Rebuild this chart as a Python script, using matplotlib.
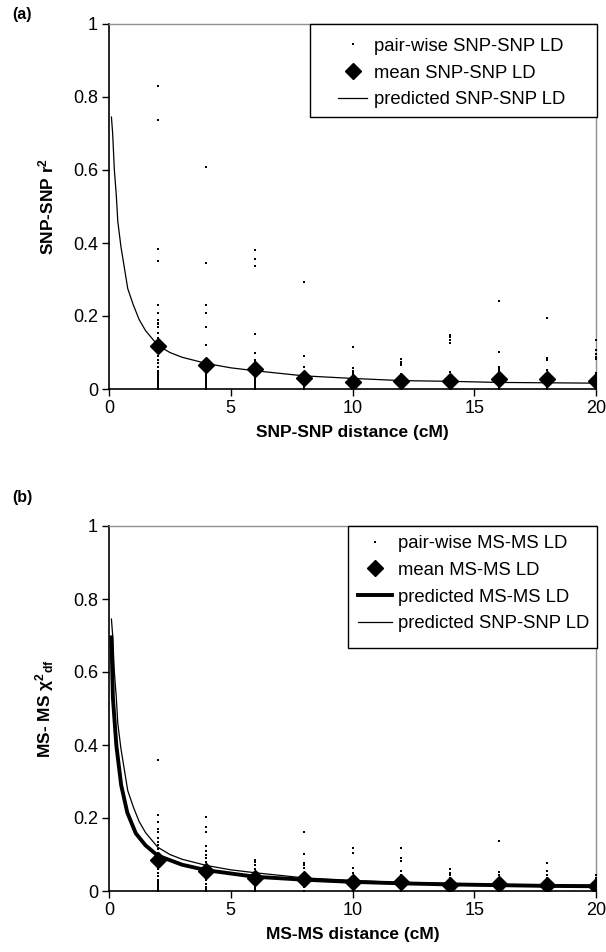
import matplotlib
matplotlib.use("Agg")
import matplotlib.pyplot as plt
from matplotlib.patches import Rectangle

plt.rcParams['font.family'] = ['Liberation Sans', 'DejaVu Sans']
plt.rcParams['mathtext.fontset'] = 'custom'
plt.rcParams['mathtext.rm'] = 'Liberation Sans'
plt.rcParams['mathtext.it'] = 'Liberation Sans:italic'
plt.rcParams['mathtext.bf'] = 'Liberation Sans:bold'

# ---------------- data: panel (a) SNP-SNP ----------------
distances = [2, 4, 6, 8, 10, 12, 14, 16, 18, 20]

snp_pairwise = {
    2: [0.83, 0.737, 0.384, 0.352, 0.23, 0.207, 0.19, 0.18, 0.177, 0.169, 0.153, 0.14,
        0.10, 0.09, 0.08, 0.07, 0.06, 0.05, 0.045, 0.04, 0.035, 0.03, 0.025, 0.02,
        0.015, 0.01, 0.005, 0.0],
    4: [0.609, 0.345, 0.23, 0.207, 0.171, 0.12, 0.05, 0.045, 0.04, 0.035, 0.03,
        0.025, 0.02, 0.015, 0.01, 0.005, 0.0],
    6: [0.381, 0.356, 0.338, 0.15, 0.10, 0.08, 0.075, 0.03, 0.025, 0.02, 0.015,
        0.01, 0.005, 0.0],
    8: [0.294, 0.09, 0.06, 0.045, 0.035, 0.02, 0.015, 0.01, 0.005, 0.0],
    10: [0.116, 0.057, 0.05, 0.045, 0.04, 0.03, 0.02, 0.01, 0.005, 0.0],
    12: [0.081, 0.075, 0.07, 0.065, 0.04, 0.03, 0.015, 0.01, 0.005, 0.0],
    14: [0.148, 0.142, 0.134, 0.127, 0.047, 0.035, 0.015, 0.01, 0.005, 0.0],
    16: [0.241, 0.102, 0.06, 0.055, 0.05, 0.04, 0.015, 0.01, 0.005, 0.0],
    18: [0.195, 0.086, 0.079, 0.052, 0.04, 0.015, 0.01, 0.005, 0.0],
    20: [0.134, 0.107, 0.096, 0.089, 0.081, 0.044, 0.035, 0.015, 0.01, 0.005, 0.0],
}
snp_mean = [0.119, 0.065, 0.055, 0.031, 0.018, 0.023, 0.022, 0.027, 0.027, 0.022]

snp_pred_x = [0.1, 0.15, 0.22, 0.3, 0.36, 0.49, 0.77, 1.0, 1.24, 1.5, 2.0, 2.5,
              3.0, 4.0, 5.0, 6.0, 8.0, 10, 12, 14, 16, 18, 20]
snp_pred_y = [0.745, 0.70, 0.60, 0.53, 0.46, 0.39, 0.275, 0.23, 0.19, 0.16, 0.12,
              0.10, 0.087, 0.07, 0.058, 0.05, 0.036, 0.029, 0.023, 0.021, 0.018,
              0.017, 0.016]

# ---------------- data: panel (b) MS-MS ----------------
ms_pairwise = {
    2: [0.36, 0.209, 0.19, 0.17, 0.163, 0.146, 0.135, 0.125, 0.115, 0.105, 0.095,
        0.08, 0.07, 0.06, 0.05, 0.04, 0.03, 0.025, 0.02, 0.015, 0.01, 0.005, 0.0],
    4: [0.204, 0.175, 0.163, 0.124, 0.11, 0.10, 0.09, 0.08, 0.07, 0.06, 0.05,
        0.04, 0.03, 0.02, 0.01, 0.005, 0.0],
    6: [0.086, 0.08, 0.07, 0.06, 0.05, 0.04, 0.03, 0.02, 0.01, 0.005, 0.0],
    8: [0.163, 0.102, 0.078, 0.07, 0.063, 0.05, 0.04, 0.03, 0.02, 0.01, 0.0],
    10: [0.118, 0.104, 0.063, 0.05, 0.04, 0.03, 0.02, 0.01, 0.0],
    12: [0.118, 0.09, 0.081, 0.054, 0.045, 0.035, 0.02, 0.01, 0.0],
    14: [0.06, 0.05, 0.045, 0.035, 0.025, 0.015, 0.01, 0.0],
    16: [0.136, 0.051, 0.045, 0.035, 0.025, 0.015, 0.01, 0.0],
    18: [0.077, 0.056, 0.045, 0.035, 0.025, 0.015, 0.01, 0.0],
    20: [0.045, 0.035, 0.025, 0.015, 0.01, 0.0],
}
ms_mean = [0.086, 0.055, 0.036, 0.032, 0.026, 0.026, 0.017, 0.02, 0.017, 0.015]

ms_pred_x = [0.1, 0.16, 0.3, 0.5, 0.75, 1.1, 1.5, 2.0, 3.0, 4.0, 6.0, 8.0, 10,
             12, 14, 16, 18, 20]
ms_pred_y = [0.695, 0.53, 0.40, 0.29, 0.215, 0.158, 0.125, 0.097, 0.072, 0.057,
             0.039, 0.031, 0.025, 0.021, 0.018, 0.016, 0.014, 0.013]

x_ticks = [0, 5, 10, 15, 20]
y_ticks = [0, 0.2, 0.4, 0.6, 0.8, 1]
y_ticklabels = ['0', '0.2', '0.4', '0.6', '0.8', '1']

# ---------------- figure ----------------
fig = plt.figure(figsize=(6.06, 9.52), dpi=100)
ax_a = fig.add_axes([109/606, 1-389/952, 487/606, 365/952])
ax_b = fig.add_axes([109/606, 1-891/952, 487/606, 365/952])


def style(ax):
    ax.set_xlim(0, 20)
    ax.set_ylim(0, 1)
    ax.set_xticks(x_ticks)
    ax.set_xticklabels([str(t) for t in x_ticks])
    ax.set_yticks(y_ticks)
    ax.set_yticklabels(y_ticklabels)
    ax.tick_params(direction='out', length=5, width=1, labelsize=13, color='black', pad=3)
    for s in ['left', 'bottom']:
        ax.spines[s].set_color('black')
        ax.spines[s].set_linewidth(1.2)
    for s in ['top', 'right']:
        ax.spines[s].set_color('#909090')
        ax.spines[s].set_linewidth(1.0)


def scatter_pairs(ax, d, label):
    xs, ys = [], []
    for k in distances:
        for v in d[k]:
            xs.append(k)
            ys.append(v)
    return ax.plot(xs, ys, linestyle='none', marker='s', markersize=1.6,
                   color='black', markeredgewidth=0, label=label, zorder=3)[0]


def framed_legend(ax, handles, frame_x0, frame_y0, anchor, handlelength):
    ax.add_patch(Rectangle((frame_x0, frame_y0), 1.002 - frame_x0, 1.0 - frame_y0,
                           transform=ax.transAxes, facecolor='white', edgecolor='black',
                           linewidth=1.0, zorder=5, clip_on=False))
    leg = ax.legend(handles=handles, loc='upper left', bbox_to_anchor=anchor,
                    borderaxespad=0, frameon=False, fontsize=13.3,
                    handlelength=handlelength, handletextpad=0.35, labelspacing=0.53,
                    borderpad=0)
    leg.set_zorder(6)
    return leg


# Panel (a)
style(ax_a)
h1 = scatter_pairs(ax_a, snp_pairwise, 'pair-wise SNP-SNP LD')
h2 = ax_a.plot(distances, snp_mean, linestyle='none', marker='D', markersize=8,
               color='black', label='mean SNP-SNP LD', zorder=4)[0]
h3 = ax_a.plot(snp_pred_x, snp_pred_y, color='black', lw=0.9,
               label='predicted SNP-SNP LD', zorder=2)[0]
framed_legend(ax_a, [h1, h2, h3], 0.4127, 0.7452, (0.470, 0.962), 1.6)
ax_a.set_xlabel('SNP-SNP distance (cM)', fontsize=12.5, fontweight='bold', labelpad=6)
ax_a.set_ylabel(r'SNP-SNP r$^{\mathbf{2}}$', fontsize=12.5, fontweight='bold', labelpad=12)
fig.text(12/606, 1-14/952, '(a)', fontsize=11.5, fontweight='bold', va='center', ha='left')

# Panel (b)
style(ax_b)
g1 = scatter_pairs(ax_b, ms_pairwise, 'pair-wise MS-MS LD')
g2 = ax_b.plot(distances, ms_mean, linestyle='none', marker='D', markersize=8,
               color='black', label='mean MS-MS LD', zorder=4)[0]
g4 = ax_b.plot(snp_pred_x, snp_pred_y, color='black', lw=0.9,
               label='predicted SNP-SNP LD', zorder=2)[0]
g3 = ax_b.plot(ms_pred_x, ms_pred_y, color='black', lw=2.8,
               label='predicted MS-MS LD', zorder=2)[0]
framed_legend(ax_b, [g1, g2, g3, g4], 0.4908, 0.6658, (0.511, 0.975), 1.85)
ax_b.set_xlabel('MS-MS distance (cM)', fontsize=12.5, fontweight='bold', labelpad=6)
ax_b.set_ylabel(r'MS- MS $\mathbf{\chi}^{\mathbf{2}}{}_{\mathbf{df}}$', fontsize=12.5,
                fontweight='bold', labelpad=12)
fig.text(12/606, 1-497/952, '(b)', fontsize=11.5, fontweight='bold', va='center', ha='left')

fig.savefig('out.png', dpi=100)
